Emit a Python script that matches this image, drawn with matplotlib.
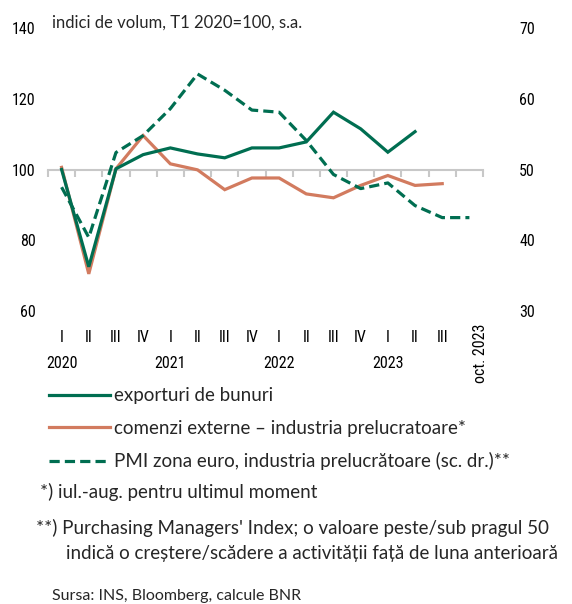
import matplotlib
matplotlib.use("Agg")
import matplotlib.pyplot as plt
from matplotlib.lines import Line2D

# Date
trimestre = ["I", "II", "III", "IV", "I", "II", "III", "IV",
             "I", "II", "III", "IV", "I", "II", "III", "oct. 2023"]
ani = ["2020", "2021", "2022", "2023"]

exporturi = [100.0, 72.5, 100.2, 104.2, 106.1, 104.4, 103.3, 106.1,
             106.1, 107.8, 116.2, 111.5, 104.9, 110.7, None, None]
comenzi = [100.6, 70.5, 100.2, 109.6, 101.6, 99.9, 94.3, 97.6,
           97.6, 93.1, 92.0, 95.5, 98.3, 95.5, 96.0, None]
pmi = [47.5, 40.4, 52.4, 54.8, 58.6, 63.5, 61.2, 58.4,
       58.1, 54.1, 49.3, 47.3, 48.1, 44.9, 43.2, 43.2]

VERDE = "#006e51"
ORANJ = "#d27b5f"
GRI = "#c8c8c8"
TEXT = "#262626"

NUM_FONT = ["Roboto Condensed", "Liberation Sans Narrow", "Roboto", "DejaVu Sans"]
TXT_FONT = ["Lato", "DejaVu Sans"]
NUM_SIZE = 11.5
TXT_SIZE = 13.5

fig = plt.figure(figsize=(5.72, 6.04), dpi=100)
ax = fig.add_axes([48 / 572, 1 - 311 / 604, 435 / 572, 283 / 604])
ax2 = ax.twinx()

x = list(range(len(trimestre)))


def _serie(vals):
    xs = [i for i, v in zip(x, vals) if v is not None]
    ys = [v for v in vals if v is not None]
    return xs, ys


lw = 2.3
xs, ys = _serie(comenzi)
ax.plot(xs, ys, color=ORANJ, lw=lw, solid_joinstyle="miter", zorder=3)
xs, ys = _serie(exporturi)
ax.plot(xs, ys, color=VERDE, lw=lw, solid_joinstyle="miter", zorder=4)
xs, ys = _serie(pmi)
ax2.plot(xs, ys, color=VERDE, lw=lw, dashes=(3.2, 1.6), zorder=4)

ax.set_xlim(-0.5, 15.5)
ax.set_ylim(60, 140)
ax2.set_ylim(30, 70)
ax.set_yticks([60, 80, 100, 120, 140])
ax2.set_yticks([30, 40, 50, 60, 70])

for a in (ax, ax2):
    for s in a.spines.values():
        s.set_visible(False)
    a.tick_params(axis="y", length=0, labelsize=NUM_SIZE)
    for lab in a.get_yticklabels():
        lab.set_family(NUM_FONT)
ax.tick_params(axis="y", pad=9)
ax2.tick_params(axis="y", pad=26)

# axa orizontala la nivelul 100
ax.spines["bottom"].set_visible(True)
ax.spines["bottom"].set_position(("data", 100))
ax.spines["bottom"].set_color(GRI)
ax.spines["bottom"].set_linewidth(1.5)
ax.set_xticks([i - 0.5 for i in range(17)])
ax.tick_params(axis="x", length=5, width=1.5, color=GRI, labelbottom=False)

# etichete trimestre si ani
for i, t in enumerate(trimestre):
    if i == len(trimestre) - 1:
        ax.text(i + 0.4, 56.5, t, rotation=90, ha="center", va="top",
                fontsize=NUM_SIZE, family=NUM_FONT)
    else:
        ax.text(i, 52.6, t, ha="center", va="center", fontsize=NUM_SIZE,
                family=NUM_FONT)
for k, an in enumerate(ani):
    ax.text(4 * k, 45.2, an, ha="center", va="center", fontsize=NUM_SIZE,
            family=NUM_FONT)

fig.text(52 / 572, 1 - 23 / 604, "indici de volum, T1 2020=100, s.a.",
         fontsize=12, va="center", family=TXT_FONT, color=TEXT)

# legenda
handles = [
    Line2D([], [], color=VERDE, lw=lw),
    Line2D([], [], color=ORANJ, lw=lw),
    Line2D([], [], color=VERDE, lw=lw, dashes=(3.2, 1.6)),
]
labels = ["exporturi de bunuri",
          "comenzi externe \u2013 industria prelucratoare*",
          "PMI zona euro, industria prelucr\u0103toare (sc. dr.)**"]
leg = fig.legend(handles, labels, loc="upper left",
                 bbox_to_anchor=(41 / 572, 1 - 380 / 604), frameon=False,
                 borderaxespad=0, handlelength=3.3, handletextpad=0.2,
                 labelspacing=0.82, prop={"family": TXT_FONT, "size": TXT_SIZE})
for t in leg.get_texts():
    t.set_color(TEXT)

fig.text(40 / 572, 1 - 492 / 604, "*) iul.-aug. pentru ultimul moment",
         fontsize=TXT_SIZE, va="center", family=TXT_FONT, color=TEXT)
fig.text(36 / 572, 1 - 528 / 604,
         "**) Purchasing Managers' Index; o valoare peste/sub pragul 50",
         fontsize=TXT_SIZE, va="center", family=TXT_FONT, color=TEXT)
fig.text(66 / 572, 1 - 553 / 604,
         "indic\u0103 o cre\u0219tere/sc\u0103dere a activit\u0103\u021bii "
         "fa\u021b\u0103 de luna anterioar\u0103",
         fontsize=TXT_SIZE, va="center", family=TXT_FONT, color=TEXT)
fig.text(52 / 572, 1 - 596 / 604, "Sursa: INS, Bloomberg, calcule BNR",
         fontsize=11.5, va="center", family=TXT_FONT, color=TEXT)

fig.savefig("out.png", dpi=100)
